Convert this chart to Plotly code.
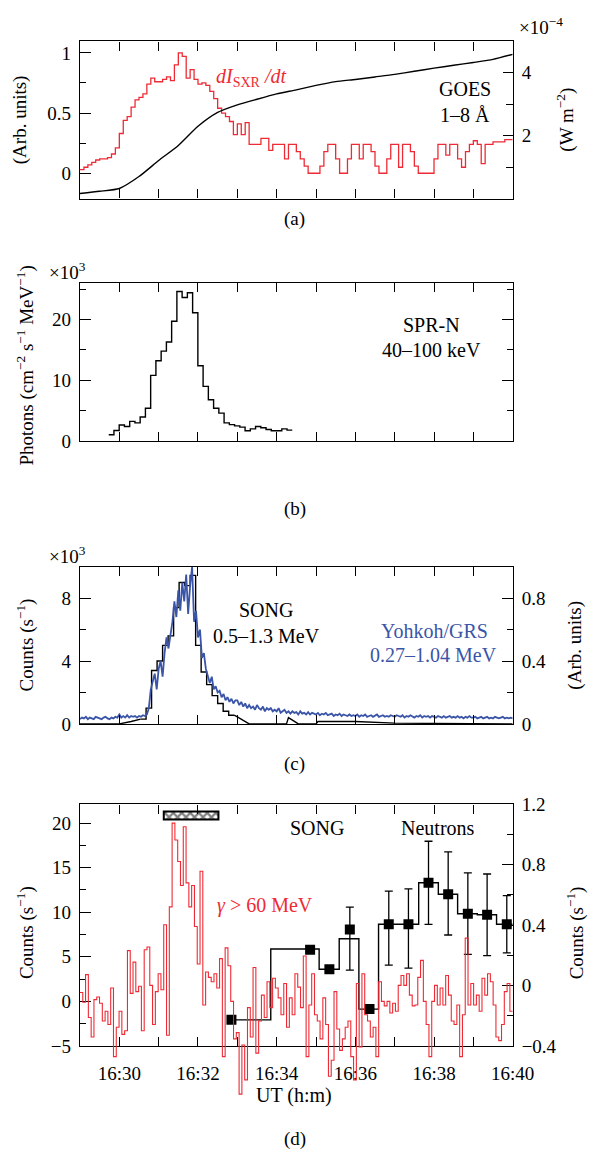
import plotly.graph_objects as go

W, H = 606, 1164
FONT = "Liberation Serif"
RED = "#ee2b34"
BLUE = "#3a55a8"

# ---------------- data ----------------
T_START = 29.0  # minutes after 16:00 (16:29)
TICK_MINUTES = [29, 30, 31, 32, 33, 34, 35, 36, 37, 38, 39, 40]
TICK_LABELS = ["", "16:30", "", "16:32", "", "16:34", "", "16:36", "", "16:38", "", "16:40"]

# (a) dI_SXR/dt (arb. units), 0.1-min bins from 16:29
SXR_DERIV_DT = 0.1
SXR_DERIV = [0.03, 0.05, 0.07, 0.09, 0.11, 0.12, 0.12, 0.13, 0.16, 0.21,
             0.33, 0.44, 0.47, 0.55, 0.61, 0.63, 0.66, 0.74, 0.79, 0.76,
             0.76, 0.78, 0.80, 0.77, 0.90, 1.00, 0.97, 0.79, 0.86, 0.78,
             0.74, 0.75, 0.73, 0.68, 0.62, 0.54, 0.50, 0.47, 0.43, 0.32,
             0.41, 0.32, 0.42, 0.24, 0.24, 0.24, 0.29, 0.29, 0.19, 0.24,
             0.24, 0.24, 0.12, 0.24, 0.24, 0.18, 0.12, 0.06, 0.0, 0.0,
             0.0, 0.06, 0.18, 0.24, 0.24, 0.12, 0.0, 0.0, 0.12, 0.24,
             0.24, 0.12, 0.24, 0.24, 0.18, 0.06, 0.0, 0.0, 0.12, 0.24,
             0.24, 0.05, 0.24, 0.24, 0.18, 0.06, 0.0, 0.0, 0.0, 0.0,
             0.12, 0.24, 0.24, 0.15, 0.24, 0.24, 0.12, 0.05, 0.18, 0.24,
             0.27, 0.24, 0.08, 0.24, 0.24, 0.26, 0.26, 0.26, 0.28, 0.28]

# (a) GOES 1-8 A flux (x1e-4 W m^-2), every 0.5 min
GOES_T = [0.0, 0.5, 1.0, 1.5, 2.0, 2.5, 3.0, 3.5, 4.0, 4.5, 5.0, 5.5,
          6.0, 6.5, 7.0, 7.5, 8.0, 8.5, 9.0, 9.5, 10.0, 10.5, 11.0]
GOES_FLUX = [0.16, 0.23, 0.32, 0.70, 1.21, 1.69, 2.30, 2.74, 2.98, 3.16, 3.33, 3.46,
             3.60, 3.72, 3.79, 3.87, 3.95, 4.05, 4.15, 4.24, 4.33, 4.43, 4.59]

# (b) SPR-N 40-100 keV photons (x1e3), 8-s bins
SPRN_T0 = 0.73
SPRN_DT = 8 / 60
SPRN = [1.03, 1.73, 2.65, 2.4, 3.24, 3.0, 3.95, 5.4, 10.8, 13.2,
        14.8, 16.3, 19.7, 24.6, 23.6, 24.4, 21.1, 12.4, 9.0, 6.8,
        5.4, 4.6, 3.0, 2.7, 2.5, 2.3, 1.7, 2.0, 2.4, 2.2,
        1.9, 1.7, 1.7, 2.0, 1.8]

# (c) SONG 0.5-1.3 MeV counts (x1e3)
SONG_STEP_T = [1.54, 1.68, 1.82, 1.96, 2.10, 2.24, 2.38, 2.52, 2.66, 2.80,
               2.94, 3.08, 3.22, 3.36, 3.50, 3.64, 3.78, 3.92]
SONG_STEP = [0.3, 1.0, 3.4, 4.0, 5.0, 5.6, 7.4, 9.0, 8.8, 9.45,
             5.0, 3.3, 2.5, 1.8, 1.3, 0.8, 0.55, 0.55]
SONG_PRE_T = [0.0, 1.0, 1.3, 1.54]
SONG_PRE = [0.0, 0.0, 0.15, 0.3]
SONG_TAIL_T = [3.92, 4.0, 4.3, 5.25, 5.3, 5.55, 6.0, 6.05, 7.0, 8.0, 11.0]
SONG_TAIL = [0.55, 0.45, 0.0, 0.0, 0.4, 0.0, 0.0, 0.15, 0.15, 0.05, 0.0]

# (c) Yohkoh/GRS 0.27-1.04 MeV (arb. units), 3-s samples
GRS_DT = 0.05
GRS = [0.03, 0.04, 0.035, 0.045, 0.03, 0.04, 0.035, 0.03, 0.045, 0.04,
       0.035, 0.03, 0.04, 0.045, 0.035, 0.03, 0.04, 0.035, 0.045, 0.04,
       0.06, 0.04, 0.05, 0.04, 0.055, 0.04, 0.05, 0.045, 0.05, 0.04,
       0.05, 0.045, 0.055, 0.05, 0.06, 0.1, 0.22, 0.28, 0.32, 0.22,
       0.35, 0.4, 0.3, 0.45, 0.55, 0.48, 0.56, 0.65, 0.78, 0.68,
       0.85, 0.72, 0.9, 0.78, 0.95, 0.7, 0.88, 1.0, 0.65, 0.72,
       0.55, 0.6, 0.42, 0.45, 0.35, 0.3, 0.26, 0.3, 0.22, 0.24,
       0.2, 0.21, 0.17, 0.19, 0.15, 0.17, 0.14, 0.16, 0.13, 0.15,
       0.15, 0.12, 0.14, 0.11, 0.13, 0.1, 0.12, 0.1, 0.11, 0.09,
       0.12, 0.1, 0.09, 0.11, 0.08, 0.1, 0.09, 0.1, 0.08, 0.09,
       0.08, 0.1, 0.07, 0.08, 0.09, 0.07, 0.08, 0.065, 0.08, 0.07,
       0.075, 0.06, 0.08, 0.065, 0.07, 0.06, 0.075, 0.06, 0.07, 0.065,
       0.06, 0.07, 0.055, 0.065, 0.06, 0.07, 0.055, 0.06, 0.065, 0.05,
       0.06, 0.055, 0.065, 0.05, 0.06, 0.055, 0.05, 0.06, 0.05, 0.055,
       0.05, 0.06, 0.045, 0.055, 0.05, 0.06, 0.045, 0.05, 0.055, 0.045,
       0.05, 0.06, 0.045, 0.05, 0.055, 0.045, 0.05, 0.045, 0.055, 0.05,
       0.045, 0.055, 0.05, 0.045, 0.055, 0.04, 0.05, 0.045, 0.055, 0.05,
       0.04, 0.05, 0.045, 0.055, 0.04, 0.05, 0.045, 0.05, 0.04, 0.05,
       0.045, 0.04, 0.05, 0.045, 0.04, 0.05, 0.04, 0.045, 0.05, 0.04,
       0.045, 0.04, 0.05, 0.04, 0.045, 0.035, 0.045, 0.04, 0.05, 0.04,
       0.04, 0.045, 0.035, 0.04, 0.045, 0.035, 0.04, 0.045, 0.035, 0.04,
       0.035, 0.045, 0.04, 0.035, 0.04, 0.045, 0.035, 0.04, 0.035, 0.04,
       0.035]

# (d) SONG gamma > 60 MeV counts, bins of 11/155 min
GAMMA_DT = 11 / 155
GAMMA = [1.0, -0.1, 3.0, -1.8, -4.0, 0.2, 0.5, -0.2, -2.2, -1.1,
         -2.6, 1.5, -6.2, -2.9, -1.1, -3.7, -3.3, 5.7, 0.9, 4.4,
         1.1, 1.7, -3.3, 5.8, 6.1, 1.8, -2.6, 1.1, 3.1, 1.3,
         8.6, -3.8, 10.6, 20.0, 18.1, 15.7, 13.0, 19.6, 13.3, 10.6,
         13.0, 8.4, 4.2, 14.6, -0.4, 3.3, 2.7, 2.2, 3.1, 1.5,
         4.8, -6.2, 6.0, 4.0, 0.0, -4.2, -3.5, -10.4, -4.9, -8.8,
         -0.7, -4.0, 3.8, -5.8, -2.2, 0.7, -1.8, 2.2, -0.7, 2.6,
         1.5, 0.4, -1.5, 2.0, -2.9, 0.4, -1.5, 3.1, 1.6, -0.7,
         5.1, -6.2, -0.4, 3.1, -1.5, -2.2, -4.2, 0.4, -2.6, -8.4,
         -6.6, 1.1, -3.1, -5.5, -4.2, -2.9, -2.2, -6.2, -8.8, 2.0,
         -5.1, 3.1, -1.5, -2.2, -4.0, -2.9, -6.2, 2.2, 0.0, -0.5,
         0.0, -1.3, -0.2, -1.1, 1.8, 2.9, 1.8, 3.1, 0.7, -0.5,
         -0.4, 2.7, 4.6, 0.0, -2.6, -6.2, 0.0, 1.8, -0.4, 1.5,
         -0.4, 2.9, 0.7, -2.2, -2.6, -0.4, -6.2, -1.5, 7.1, -0.4,
         2.0, -0.4, 0.7, -1.1, 2.6, 0.7, 3.1, 2.2, -0.4, -4.0,
         -4.4, -2.6, 1.1, 2.0, -1.1]

# (d) SONG neutrons (counts/s, right axis)
NEUT_STEP_EDGES = [3.85, 4.85, 6.08, 6.59, 7.09, 7.59, 8.61, 9.11, 9.60, 10.10, 10.59, 11.0]
NEUT_STEP = [-0.227, 0.242, 0.108, 0.31, -0.156, 0.406, 0.681, 0.605, 0.476, 0.469, 0.406, 0.406]
NEUT_T = [3.85, 5.85, 6.34, 6.86, 7.36, 7.85, 8.35, 8.86, 9.36, 9.86, 10.35, 10.85]
NEUT = [-0.227, 0.238, 0.108, 0.372, -0.156, 0.406, 0.406, 0.681, 0.605, 0.476, 0.469, 0.406]
NEUT_ERR_PLUS = [0, 0, 0, 0.147, 0, 0.22, 0.235, 0.275, 0.28, 0.27, 0.27, 0.19]
NEUT_ERR_MINUS = [0, 0, 0, 0.27, 0, 0.27, 0.29, 0.275, 0.27, 0.27, 0.27, 0.19]

# hatched interval (start, end minutes; count range)
HATCH_T = [2.13, 3.52]
HATCH_Y = [20.4, 21.3]

# ---------------- layout geometry (pixels) ----------------
X_L, X_R = 83, 532
PANELS = {"a": (32, 192), "b": (278, 439), "c": (567, 727), "d": (809, 1055)}
D_EXT_BOTTOM = 1110


def px(x):
    return x / W


def py(y):
    return 1 - y / H


def dom(p):
    t, b = PANELS[p]
    return [py(b), py(t)]


XDOM = [px(X_L), px(X_R)]
XR = [T_START, T_START + 11]

fig = go.Figure()

# (a)
fig.add_trace(go.Scatter(x=[T_START + i * SXR_DERIV_DT for i in range(len(SXR_DERIV) + 1)],
                         y=SXR_DERIV + [SXR_DERIV[-1]], mode="lines", line=dict(color=RED, width=1.3, shape="hv"),
                         xaxis="x", yaxis="y"))
fig.add_trace(go.Scatter(x=[T_START + t for t in GOES_T], y=GOES_FLUX, mode="lines",
                         line=dict(color="black", width=1.4, shape="spline", smoothing=0.6),
                         xaxis="x", yaxis="y2"))
# (b)
fig.add_trace(go.Scatter(x=[T_START + SPRN_T0 + i * SPRN_DT for i in range(len(SPRN) + 1)],
                         y=SPRN + [SPRN[-1]], mode="lines", line=dict(color="black", width=1.4, shape="hv"),
                         xaxis="x2", yaxis="y3"))
# (c)
fig.add_trace(go.Scatter(x=[T_START + t for t in SONG_PRE_T], y=SONG_PRE, mode="lines",
                         line=dict(color="black", width=1.4), xaxis="x3", yaxis="y4"))
fig.add_trace(go.Scatter(x=[T_START + t for t in SONG_STEP_T], y=SONG_STEP, mode="lines",
                         line=dict(color="black", width=1.4, shape="hv"), xaxis="x3", yaxis="y4"))
fig.add_trace(go.Scatter(x=[T_START + t for t in SONG_TAIL_T], y=SONG_TAIL, mode="lines",
                         line=dict(color="black", width=1.4), xaxis="x3", yaxis="y4"))
fig.add_trace(go.Scatter(x=[T_START + i * GRS_DT for i in range(len(GRS))], y=GRS, mode="lines",
                         line=dict(color=BLUE, width=1.8), xaxis="x3", yaxis="y5"))
# (d) red gamma on extended invisible axes so it can pass below the frame
fig.add_trace(go.Scatter(x=[T_START + i * GAMMA_DT for i in range(len(GAMMA) + 1)],
                         y=GAMMA + [GAMMA[-1]], mode="lines", line=dict(color=RED, width=1.1, shape="hv"),
                         xaxis="x5", yaxis="y8"))
fig.add_trace(go.Bar(x=[T_START + (HATCH_T[0] + HATCH_T[1]) / 2], y=[HATCH_Y[1] - HATCH_Y[0]],
                     base=[HATCH_Y[0]], width=[HATCH_T[1] - HATCH_T[0]],
                     marker=dict(color="white", line=dict(color="black", width=2),
                                 pattern=dict(shape="x", fgcolor="black", bgcolor="white", size=6, solidity=0.6)),
                     xaxis="x4", yaxis="y6"))
fig.add_trace(go.Scatter(x=[T_START + t for t in NEUT_STEP_EDGES], y=NEUT_STEP, mode="lines",
                         line=dict(color="black", width=1.4, shape="hv"), xaxis="x4", yaxis="y7"))
fig.add_trace(go.Scatter(x=[T_START + t for t in NEUT_T], y=NEUT, mode="markers",
                         marker=dict(symbol="square", size=10, color="black"),
                         error_y=dict(type="data", array=NEUT_ERR_PLUS, arrayminus=NEUT_ERR_MINUS,
                                      color="black", thickness=1.3, width=4),
                         xaxis="x4", yaxis="y7"))

TS = 19   # tick font size
AS = 19   # annotation font size
tickfont = dict(family=FONT, size=TS, color="black")
common = dict(showline=True, linecolor="black", linewidth=1.3, ticks="inside", tickcolor="black",
              tickwidth=1.2, showgrid=False, zeroline=False, tickfont=tickfont, fixedrange=True)


def xax(anchor, labels):
    return dict(common, domain=XDOM, range=XR, anchor=anchor, mirror="ticks", ticklen=9,
                tickmode="array", tickvals=TICK_MINUTES, ticktext=TICK_LABELS, showticklabels=labels,
                ticklabelstandoff=10)


def minor(dt, ln=6):
    return dict(dtick=dt, ticklen=ln, ticks="inside", tickcolor="black", tickwidth=1.2)


layout = dict(
    width=W, height=H, margin=dict(l=0, r=0, t=0, b=0), showlegend=False,
    paper_bgcolor="white", plot_bgcolor="rgba(0,0,0,0)", font=dict(family=FONT, size=TS, color="black"),
    xaxis=xax("y", False),
    yaxis=dict(common, domain=dom("a"), anchor="x", range=[-0.21, 1.095], tick0=0, dtick=0.5, ticklen=11,
               minor=minor(0.25), ticklabelstandoff=4),
    yaxis2=dict(common, overlaying="y", side="right", anchor="x", range=[0, 5.0], tickmode="array",
                tickvals=[2, 4], ticklen=10, minor=dict(minor(1, 7), tick0=0), ticklabelstandoff=4),
    xaxis2=xax("y3", False),
    yaxis3=dict(common, domain=dom("b"), anchor="x2", range=[0, 26], tick0=0, dtick=10, ticklen=11,
                minor=minor(5), mirror="ticks", ticklabelstandoff=4),
    xaxis3=xax("y4", False),
    yaxis4=dict(common, domain=dom("c"), anchor="x3", range=[0, 10], tick0=0, dtick=4, ticklen=11,
                minor=minor(2), ticklabelstandoff=4),
    yaxis5=dict(common, overlaying="y4", side="right", anchor="x3", range=[0, 1.0], tick0=0, dtick=0.4,
                ticklen=11, minor=minor(0.2), ticklabelstandoff=4),
    xaxis4=xax("y6", True),
    yaxis6=dict(common, domain=dom("d"), anchor="x4", range=[-5, 22.1], tick0=0, dtick=5, ticklen=11,
                minor=minor(2.5), ticklabelstandoff=4),
    yaxis7=dict(common, overlaying="y6", side="right", anchor="x4", range=[-0.4, 1.2], tick0=0, dtick=0.4,
                ticklen=11, minor=minor(0.2), ticklabelstandoff=4),
)
# invisible extended axes for the red gamma trace in (d)
d_top, d_bot = PANELS["d"]
ppu = (d_bot - d_top) / (22.1 - (-5))
ext_low = -5 - (D_EXT_BOTTOM - d_bot) / ppu
layout["xaxis5"] = dict(domain=XDOM, range=XR, anchor="y8", visible=False, fixedrange=True)
layout["yaxis8"] = dict(domain=[py(D_EXT_BOTTOM), py(d_top)], range=[ext_low, 22.1], anchor="x5",
                        visible=False, fixedrange=True)
fig.update_layout(**layout)


def ann(text, x, y, size=AS, color="black", angle=0):
    fig.add_annotation(text=text, x=px(x), y=py(y), xref="paper", yref="paper", showarrow=False,
                       font=dict(family=FONT, size=size, color=color), textangle=angle,
                       xanchor="center", yanchor="middle")


ann("(Arb. units)", 21, 112, angle=-90)
ann("(W m<sup>−2</sup>)", 587, 112, angle=-90)
ann("×10<sup>−4</sup>", 561, 16)
ann("<i>dI</i><sub>SXR</sub> <i>/dt</i>", 260, 69, size=20, color=RED)
ann("GOES", 482, 80, size=20)
ann("1–8 Å", 482, 107, size=20)
ann("(a)", 306, 213)

ann("Photons (cm<sup>−2</sup> s<sup>−1</sup> MeV<sup>−1</sup>)", 26, 362, angle=-90)
ann("×10<sup>3</sup>", 70, 266)
ann("SPR-N", 448, 321, size=20)
ann("40–100 keV", 448, 346, size=20)
ann("(b)", 306, 508)

ann("×10<sup>3</sup>", 70, 555)
ann("Counts (s<sup>−1</sup>)", 26, 647, angle=-90)
ann("(Arb. units)", 597, 647, angle=-90)
ann("SONG", 276, 611, size=20)
ann("0.5–1.3 MeV", 277, 638, size=20)
ann("Yohkoh/GRS", 451, 632, size=20, color=BLUE)
ann("0.27–1.04 MeV", 450, 657, size=20, color=BLUE)
ann("(c)", 306, 768)

ann("Counts (s<sup>−1</sup>)", 26, 940, angle=-90)
ann("Counts (s<sup>−1</sup>)", 597, 940, angle=-90)
ann("SONG", 329, 833, size=20)
ann("Neutrons", 455, 833, size=20)
ann("<i>γ</i> > 60 MeV", 275, 912, size=20, color=RED)
ann("UT (h:m)", 305, 1105, size=20)
ann("(d)", 306, 1150)

fig.write_html("out.html")
